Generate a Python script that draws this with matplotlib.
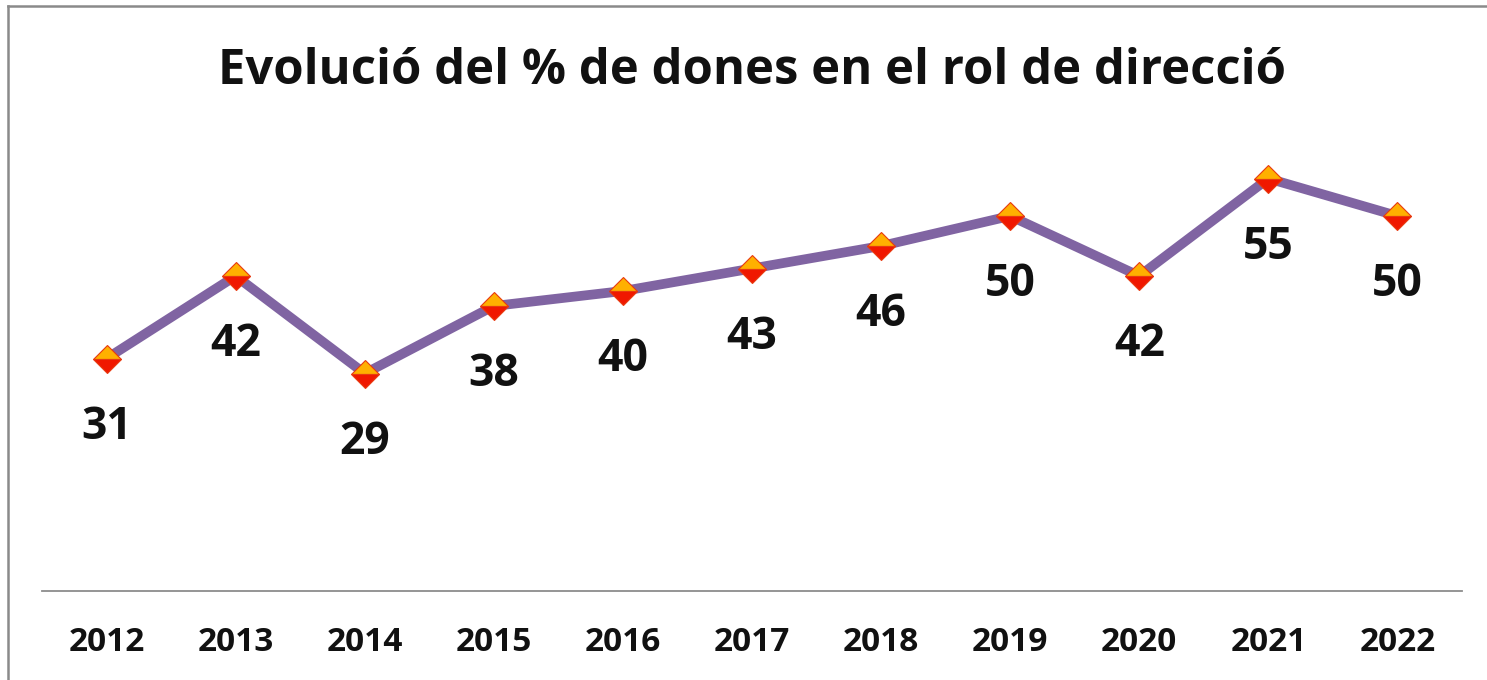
import matplotlib
matplotlib.use("Agg")
import matplotlib.pyplot as plt
from matplotlib.lines import Line2D

years = ["2012", "2013", "2014", "2015", "2016", "2017", "2018", "2019", "2020", "2021", "2022"]
values = [31, 42, 29, 38, 40, 43, 46, 50, 42, 55, 50]
title = "Evolució del % de dones en el rol de direcció"

plt.rcParams['font.family'] = ['Open Sans', 'DejaVu Sans']

fig = plt.figure(figsize=(14.87, 6.80), dpi=100)
fig.patch.set_facecolor("white")
W, H = 1487, 680

ax = fig.add_axes([42 / W, 1 - 591 / H, (1462 - 42) / W, (591 - 66) / H])
x = list(range(len(years)))
ax.plot(x, values, color="#8064A2", lw=7, solid_joinstyle="miter", zorder=2)
ax.plot(x, values, linestyle="none", marker="D", ms=14.5,
        markerfacecolor="#FFB000", markerfacecoloralt="#F01800", fillstyle="top",
        markeredgecolor="#E83A10", markeredgewidth=0.8, zorder=3)
for xi, v in zip(x, values):
    ax.annotate(str(v), (xi, v), xytext=(0, -49.5), textcoords="offset points",
                ha="center", va="center", fontsize=32, fontweight="bold", color="#111111")

ax.set_xlim(-0.5, len(years) - 0.5)
ax.set_ylim(0, 70)
ax.set_xticks(x)
ax.set_xticklabels(years, fontsize=24, fontweight="bold", color="#111111")
ax.tick_params(axis="x", length=0, pad=25)
ax.set_yticks([])
for s in ["top", "left", "right"]:
    ax.spines[s].set_visible(False)
ax.spines["bottom"].set_color("#8c8c8c")
ax.spines["bottom"].set_linewidth(1.3)
ax.set_facecolor("none")

fig.text(752 / W, 1 - 72 / H, title, ha="center", va="center",
         fontsize=35.3, fontweight="bold", color="#111111")

# outer chart border (top and left)
fig.add_artist(Line2D([8 / W, 1.0], [1 - 6 / H, 1 - 6 / H], transform=fig.transFigure,
                      color="#8a8a8a", lw=1.8))
fig.add_artist(Line2D([8 / W, 8 / W], [0, 1 - 6 / H], transform=fig.transFigure,
                      color="#8a8a8a", lw=1.8))

fig.savefig("out.png", dpi=100, facecolor="white")
